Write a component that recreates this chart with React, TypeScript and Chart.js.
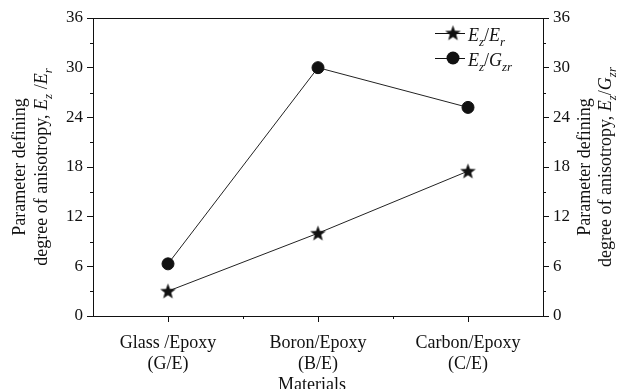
import React, { useEffect, useRef } from "react";
import { Chart, registerables } from "chart.js";

Chart.register(...registerables);

const categories: string[][] = [
  ["Glass /Epoxy", "(G/E)"],
  ["Boron/Epoxy", "(B/E)"],
  ["Carbon/Epoxy", "(C/E)"],
];
const ezOverEr: number[] = [3, 10, 17.5];
const ezOverGzr: number[] = [6.3, 30, 25.2];
const yMin = 0;
const yMax = 36;
const yStep = 6;
const yMinorValues: number[] = [3, 9, 15, 21, 27, 33];

const FAMILY = "'Liberation Serif', 'Times New Roman', serif";
const INK = "#111111";

type Seg = { t: string; it?: boolean; sub?: boolean };

function segFont(s: Seg, base: number) {
  const size = s.sub ? Math.round(base * 0.7) : base;
  return `${s.it ? "italic " : ""}${size}px ${FAMILY}`;
}

function drawRich(
  ctx: CanvasRenderingContext2D,
  segs: Seg[],
  x: number,
  y: number,
  rot: number,
  align: "center" | "left",
  base = 18
) {
  ctx.save();
  ctx.translate(x, y);
  ctx.rotate(rot);
  ctx.fillStyle = INK;
  ctx.textBaseline = "alphabetic";
  ctx.textAlign = "left";
  const widths = segs.map((s) => {
    ctx.font = segFont(s, base);
    return ctx.measureText(s.t).width;
  });
  const total = widths.reduce((a, b) => a + b, 0);
  let cx = align === "center" ? -total / 2 : 0;
  segs.forEach((s, i) => {
    ctx.font = segFont(s, base);
    ctx.fillText(s.t, cx, s.sub ? base * 0.28 : 0);
    cx += widths[i];
  });
  ctx.restore();
}

function makeStar(size: number, outer: number, inner: number) {
  const c = document.createElement("canvas");
  c.width = size;
  c.height = size;
  const g = c.getContext("2d")!;
  const m = size / 2;
  g.beginPath();
  for (let i = 0; i < 10; i++) {
    const r = i % 2 === 0 ? outer : inner;
    const a = -Math.PI / 2 + (i * Math.PI) / 5;
    const px = m + r * Math.cos(a);
    const py = m + 0.5 + r * Math.sin(a);
    if (i === 0) g.moveTo(px, py);
    else g.lineTo(px, py);
  }
  g.closePath();
  g.fillStyle = INK;
  g.fill();
  return c;
}

export default function App() {
  const ref = useRef<HTMLCanvasElement | null>(null);

  useEffect(() => {
    const canvas = ref.current;
    if (!canvas) return;
    const star = makeStar(17, 8.2, 3.4);

    const decor = {
      id: "decor",
      afterDraw(chart: any) {
        const ctx: CanvasRenderingContext2D = chart.ctx;
        const a = chart.chartArea;
        const xs = chart.scales.x;
        const ys = chart.scales.y;
        ctx.save();
        ctx.strokeStyle = INK;
        ctx.lineWidth = 1;
        // top border
        ctx.beginPath();
        ctx.moveTo(a.left, Math.round(a.top) + 0.5);
        ctx.lineTo(a.right, Math.round(a.top) + 0.5);
        ctx.stroke();
        // minor ticks y (both sides)
        yMinorValues.forEach((v) => {
          const py = Math.round(ys.getPixelForValue(v)) + 0.5;
          ctx.beginPath();
          ctx.moveTo(a.left - 3, py);
          ctx.lineTo(a.left, py);
          ctx.moveTo(a.right, py);
          ctx.lineTo(a.right + 3, py);
          ctx.stroke();
        });
        // minor ticks x (between categories)
        for (let i = 0; i < categories.length - 1; i++) {
          const px =
            Math.round((xs.getPixelForValue(i) + xs.getPixelForValue(i + 1)) / 2) + 0.5;
          ctx.beginPath();
          ctx.moveTo(px, a.bottom);
          ctx.lineTo(px, a.bottom + 3);
          ctx.stroke();
        }
        ctx.restore();

        // legend
        const lx0 = 435;
        const lx1 = 465;
        const mx = 453;
        const rows = [
          { y: 33, base: 41, kind: "star", segs: [{ t: "E", it: true }, { t: "z", it: true, sub: true }, { t: "/" }, { t: "E", it: true }, { t: "r", it: true, sub: true }] },
          { y: 58, base: 66, kind: "circle", segs: [{ t: "E", it: true }, { t: "z", it: true, sub: true }, { t: "/" }, { t: "G", it: true }, { t: "zr", it: true, sub: true }] },
        ];
        rows.forEach((r) => {
          ctx.save();
          ctx.strokeStyle = INK;
          ctx.lineWidth = 1;
          ctx.beginPath();
          ctx.moveTo(lx0, r.y + 0.5);
          ctx.lineTo(lx1, r.y + 0.5);
          ctx.stroke();
          if (r.kind === "star") {
            ctx.drawImage(star, mx - star.width / 2, r.y - star.height / 2);
          } else {
            ctx.fillStyle = INK;
            ctx.beginPath();
            ctx.arc(mx, r.y, 6.5, 0, Math.PI * 2);
            ctx.fill();
          }
          ctx.restore();
          drawRich(ctx, r.segs as Seg[], 468, r.base, 0, "left");
        });

        // axis titles
        const cy = (a.top + a.bottom) / 2;
        const rot = -Math.PI / 2;
        drawRich(ctx, [{ t: "Parameter defining" }], 25, cy, rot, "center");
        drawRich(
          ctx,
          [
            { t: "degree of anisotropy, " },
            { t: "E", it: true },
            { t: "z", it: true, sub: true },
            { t: " /" },
            { t: "E", it: true },
            { t: "r", it: true, sub: true },
          ],
          47,
          cy,
          rot,
          "center"
        );
        drawRich(ctx, [{ t: "Parameter defining" }], 590, cy, rot, "center");
        drawRich(
          ctx,
          [
            { t: "degree of anisotropy, " },
            { t: "E", it: true },
            { t: "z", it: true, sub: true },
            { t: "/" },
            { t: "G", it: true },
            { t: "zr", it: true, sub: true },
          ],
          611,
          cy,
          rot,
          "center"
        );
        drawRich(ctx, [{ t: "Materials" }], (a.left + a.right) / 2 - 6, 390, 0, "center");
      },
    };

    const yCommon = (side: "left" | "right", width: number) => ({
      type: "linear" as const,
      position: side,
      min: yMin,
      max: yMax,
      ticks: {
        stepSize: yStep,
        color: INK,
        padding: 4,
        font: { family: FAMILY, size: 17 },
      },
      grid: {
        drawOnChartArea: false,
        drawTicks: true,
        tickLength: 6,
        color: INK,
      },
      border: { display: true, color: INK, width: 1 },
      afterFit: (s: any) => {
        s.width = width;
      },
    });

    const chart = new Chart(canvas, {
      type: "line",
      data: {
        labels: categories,
        datasets: [
          {
            label: "Ez/Er",
            data: ezOverEr,
            borderColor: "#222222",
            borderWidth: 1,
            pointStyle: star as any,
            pointRadius: 8,
            yAxisID: "y",
          },
          {
            label: "Ez/Gzr",
            data: ezOverGzr,
            borderColor: "#222222",
            borderWidth: 1,
            pointStyle: "circle",
            pointRadius: 6,
            pointBorderWidth: 1,
            pointBackgroundColor: INK,
            pointBorderColor: INK,
            yAxisID: "y",
          },
        ],
      },
      options: {
        animation: false,
        responsive: false,
        maintainAspectRatio: false,
        layout: { padding: { top: 18, left: 0, right: 0, bottom: 0 } },
        plugins: {
          legend: { display: false },
          tooltip: { enabled: false },
          title: { display: false },
        },
        scales: {
          x: {
            type: "category",
            offset: true,
            ticks: {
              color: INK,
              padding: 11,
              maxRotation: 0,
              autoSkip: false,
              font: { family: FAMILY, size: 18, lineHeight: 1.17 },
            },
            grid: {
              offset: false,
              drawOnChartArea: false,
              drawTicks: true,
              tickLength: 6,
              color: INK,
            },
            border: { display: true, color: INK, width: 1 },
            afterFit: (s: any) => {
              s.height = 73;
            },
          },
          y: yCommon("left", 93),
          y2: yCommon("right", 76),
        },
      },
      plugins: [decor],
    });

    return () => {
      chart.destroy();
    };
  }, []);

  return (
    <div style={{ position: "fixed", left: 0, top: 0, width: 619, height: 389, background: "#fff" }}>
      <canvas ref={ref} width={619} height={389} style={{ display: "block", width: 619, height: 389 }} />
    </div>
  );
}
